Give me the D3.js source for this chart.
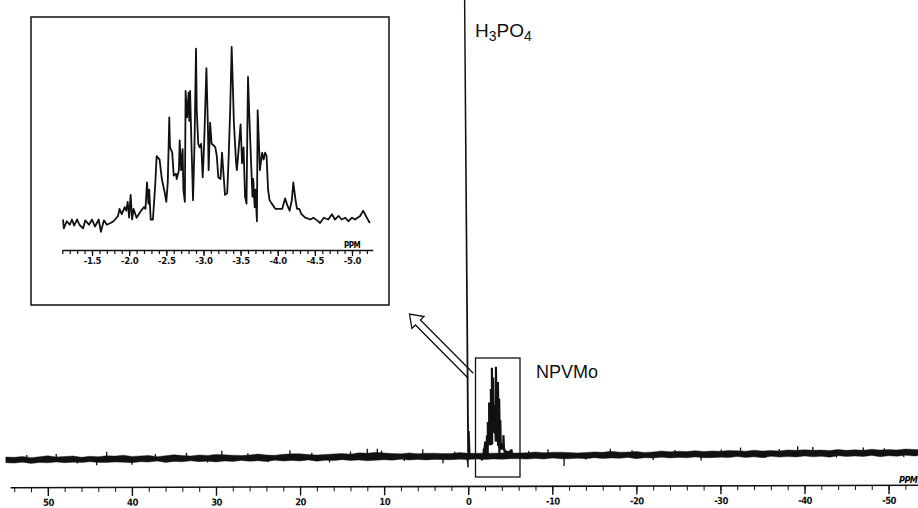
<!DOCTYPE html>
<html>
<head>
<meta charset="utf-8">
<script src="https://cdnjs.cloudflare.com/ajax/libs/d3/7.8.5/d3.min.js"></script>
<style>
body{margin:0;background:#fff;}
svg{display:block;}
.axis text{font-family:"DejaVu Sans Condensed","DejaVu Sans",sans-serif;font-weight:bold;fill:#111;}
.axis line,.axis path{stroke:#111;}
.label{font-family:"Liberation Sans",Arial,sans-serif;fill:#111;}
</style>
</head>
<body>
<div id="chart"></div>
<script>
// inset trace (ppm, relative intensity)
var insetPpm = [-1.11,-1.12,-1.16,-1.20,-1.23,-1.26,-1.30,-1.33,-1.38,-1.41,-1.46,-1.50,-1.54,-1.59,-1.62,-1.66,-1.70,-1.75,-1.79,-1.85,
	-1.87,-1.90,-1.94,-1.96,-1.98,-2.00,-2.02,-2.04,-2.06,-2.10,-2.13,-2.16,-2.20,-2.22,-2.24,-2.26,-2.27,-2.29,-2.32,-2.35,
	-2.37,-2.41,-2.44,-2.48,-2.50,-2.52,-2.54,-2.55,-2.58,-2.60,-2.63,-2.64,-2.67,-2.68,-2.70,-2.72,-2.73,-2.75,-2.76,-2.78,
	-2.80,-2.81,-2.82,-2.84,-2.86,-2.88,-2.90,-2.91,-2.93,-2.95,-2.97,-2.99,-3.01,-3.03,-3.04,-3.06,-3.07,-3.09,-3.11,-3.14,
	-3.16,-3.18,-3.20,-3.23,-3.25,-3.27,-3.29,-3.32,-3.34,-3.36,-3.38,-3.40,-3.41,-3.44,-3.45,-3.47,-3.50,-3.52,-3.54,-3.56,
	-3.58,-3.59,-3.60,-3.62,-3.64,-3.66,-3.67,-3.69,-3.70,-3.72,-3.73,-3.75,-3.76,-3.79,-3.81,-3.83,-3.85,-3.87,-3.89,-3.92,
	-3.97,-4.01,-4.06,-4.10,-4.13,-4.16,-4.19,-4.21,-4.24,-4.26,-4.29,-4.32,-4.37,-4.44,-4.48,-4.53,-4.57,-4.62,-4.68,-4.73,
	-4.77,-4.82,-4.86,-4.91,-4.95,-5.00,-5.04,-5.11,-5.15,-5.20,-5.24];
var insetInt = [2,-3,1,-1,2,-1.5,2,-1,-3,1.5,-1,2,-2,2,-5,1.5,-1,0,1,4,
	8,5,9,7,12,3,16,2,8,3,5,7,9,8,23,11,19,2,2,21,
	38,36,25,17,12,23,60,43,40,27,28,25,30,47,30,42,19,12,75,60,
	74,58,75,43,13,45,99,64,45,43,45,26,45,74,88,55,30,57,45,44,
	43,38,26,25,40,28,16,17,38,64,100,72,57,34,30,40,56,34,43,15,
	11,49,83,58,36,15,25,9,19,1,64,42,30,40,36,40,38,19,13,11,
	8,8,8,14,10,7,13,23,13,8,8,5,3,2,3,1.5,0,3,2,5,
	2,4,2,3,1,3,2,4,7,3,0];

// main baseline noise envelope, one value per ppm from 55 down to -54
var noiseHi = [3,2.5,3.5,2,3,4,2.5,3,3.5,2,
	3,2.5,3.5,3,4,2.5,3,3.5,2,3,
	4,3,2.5,3.5,3,4,3.5,3,2.5,3,
	4,3,2.5,3.5,4,4,3,2.5,3,3.5,
	4,3,4.5,4,5,4,3.5,3,4,3,
	3.5,3.5,3,3,4,3,3,3,3,3,
	3,3,3,4,3,3.5,3.5,3,2.5,3,
	3.5,3,4,3,3,3.5,2.5,3,4,3,
	3.5,3,4,3,3.5,3,4,3.5,3,4,
	3,3.5,3,4,3.5,4,3.5,3.5,3,4,
	3,3.5,3,4,3,3.5,3,4,3.5,3];
var noiseLo = [-3.5,-4,-3,-4.5,-3.5,-4,-3,-4,-3.5,-4,
	-3,-4,-4,-3.5,-4,-4.5,-3.5,-4,-3,-4.5,
	-3.5,-4,-3,-4,-3.5,-4.5,-3.5,-4,-3,-4,
	-3.5,-4.5,-3,-4,-3.5,-4,-3,-4.5,-3.5,-4,
	-3,-4,-3.5,-4.5,-4,-3.5,-4,-3,-4,-3.5,
	-4,-3.5,-4,-4,-3.5,-4,-3.5,-4,-3.5,-4,
	-3.5,-3.5,-4,-3.5,-4,-3,-4,-4,-3.5,-4,
	-3,-4,-3.5,-4,-3,-4.5,-3.5,-4,-3,-4,
	-3.5,-4,-3,-4,-4,-3.5,-4,-3,-4,-3.5,
	-4.5,-3,-4,-3.5,-4,-3,-4,-3.5,-4.5,-3,
	-4,-3.5,-4,-3,-4.5,-3.5,-4,-3,-4,-3.5];

// isolated noise spikes on the main trace
var spikePpm = [52.5,49.0,46.5,44.2,43.0,40.0,37.2,33.5,31.0,29.3,26.2,23.8,21.2,18.6,16.5,14.0,12.0,10.8,10.3,7.6,
	5.4,3.0,1.6,-7.2,-9.5,-11.4,-14.0,-16.9,-19.5,-22.0,-24.6,-27.7,-30.1,-32.4,-35.3,-37.0,-39.2,-41.0,-43.8,-47.0,
	-49.5,-51.8];
var spikeInt = [5,6,-5,-7,8,-7,5,6,-5,8,5,-5,8,5,-6,6,9,9,7,-5,
	8,-8,5,5,7,-12,-5,7,5,-6,5,-7,5,7,-5,5,8,7,-5,6,
	5,-5];

// H3PO4 reference line at 0 ppm (off scale)
var refPpm = [0.25,0.08,0.03,0.0,-0.03,-0.12,-0.2,-0.3];
var refInt = [0,-6,-13,540,-2,28,0,0];

var mainMajorTicks = [50,40,30,20,10,0,-10,-20,-30,-40,-50];
var insetMajorTicks = [-1.5,-2.0,-2.5,-3.0,-3.5,-4.0,-4.5,-5.0];

var width = 918, height = 508;
var svg = d3.select("#chart").append("svg")
	.attr("width", width)
	.attr("height", height);

// ---------- main spectrum ----------
var x = d3.scaleLinear().domain([54.5, -53.5]).range([10, 918]);
var y = d3.scaleLinear().domain([0, 100]).range([456, 367]);

var noiseData = noiseHi.map(function(v, i){ return {ppm: 55 - i, hi: v, lo: noiseLo[i]}; });
var insetData = insetPpm.map(function(p, i){ return [p, insetInt[i]]; });
var refData = refPpm.map(function(p, i){ return [p, refInt[i]]; });

var spec = svg.append("g")
	.attr("transform", "rotate(-0.45,468,456)");

var band = d3.area()
	.x(function(d){ return x(d.ppm); })
	.y0(function(d){ return y(d.lo); })
	.y1(function(d){ return y(d.hi); });

spec.append("path")
	.datum(noiseData)
	.attr("d", band)
	.attr("fill", "#111")
	.attr("stroke", "#111")
	.attr("stroke-width", 0.4);

spec.selectAll(".spike")
	.data(spikePpm)
  .enter().append("line")
	.attr("class", "spike")
	.attr("x1", function(d){ return x(d); })
	.attr("x2", function(d){ return x(d); })
	.attr("y1", y(0))
	.attr("y2", function(d, i){ return y(spikeInt[i]); })
	.attr("stroke", "#111")
	.attr("stroke-width", 1.3);

var mainLine = d3.line()
	.x(function(d){ return x(d[0]); })
	.y(function(d){ return y(d[1]); });

spec.append("path")
	.datum(insetData)
	.attr("d", mainLine)
	.attr("fill", "none")
	.attr("stroke", "#111")
	.attr("stroke-width", 2.2);

spec.append("path")
	.datum(refData)
	.attr("d", mainLine)
	.attr("fill", "none")
	.attr("stroke", "#111")
	.attr("stroke-width", 1.4);

// main axis
var axisG = svg.append("g")
	.attr("transform", "rotate(-0.15,468,486)");

axisG.append("g")
	.attr("class", "axis")
	.attr("transform", "translate(0,486)")
	.call(d3.axisBottom(x).tickValues(d3.range(54, -53, -2)).tickSize(5).tickSizeOuter(0).tickFormat(""))
	.call(function(g){ g.select(".domain").attr("stroke-width", 1.6); });

axisG.append("g")
	.attr("class", "axis")
	.attr("transform", "translate(0,486)")
	.call(d3.axisBottom(x).tickValues(mainMajorTicks).tickSize(9).tickPadding(3).tickFormat(function(d){ return String(d); }))
	.call(function(g){
		g.select(".domain").remove();
		g.selectAll("line").attr("stroke-width", 1.4);
		g.selectAll("text").style("font-size", "9.5px").attr("letter-spacing", "-0.6");
	});

svg.append("text")
	.attr("class", "axis")
	.attr("x", 899)
	.attr("y", 483)
	.style("font-family", "DejaVu Sans Condensed, DejaVu Sans, sans-serif")
	.style("font-weight", "bold")
	.style("font-style", "italic")
	.style("font-size", "9px")
	.attr("letter-spacing", "-0.5")
	.text("PPM");

// NPVMo box and label
svg.append("rect")
	.attr("x", 475.5).attr("y", 358)
	.attr("width", 44.5).attr("height", 119)
	.attr("fill", "none")
	.attr("stroke", "#111")
	.attr("stroke-width", 1.3);

svg.append("text")
	.attr("class", "label")
	.attr("x", 536)
	.attr("y", 378)
	.style("font-size", "18px")
	.text("NPVMo");

var h3 = svg.append("text")
	.attr("class", "label")
	.attr("x", 475)
	.attr("y", 37)
	.style("font-size", "19px");
h3.append("tspan").text("H");
h3.append("tspan").attr("dy", 4).style("font-size", "14px").text("3");
h3.append("tspan").attr("dy", -4).text("PO");
h3.append("tspan").attr("dy", 4).style("font-size", "14px").text("4");

// outline arrow pointing from the box to the inset
var tip = [409.5, 314], dir = [0.704, 0.710], nrm = [0.710, -0.704];
function pt(along, across){
	return [tip[0] + dir[0]*along + nrm[0]*across, tip[1] + dir[1]*along + nrm[1]*across];
}
var arrowPts = [pt(87, 3.5), pt(12, 3.5), pt(12, 8.5), pt(0, 0), pt(12, -8.5), pt(12, -3.5), pt(87, -3.5)];
svg.append("path")
	.attr("d", d3.line()(arrowPts))
	.attr("fill", "none")
	.attr("stroke", "#111")
	.attr("stroke-width", 1.3)
	.attr("stroke-linejoin", "miter");

// ---------- inset ----------
svg.append("rect")
	.attr("x", 31).attr("y", 17)
	.attr("width", 358).attr("height", 288)
	.attr("fill", "#fff")
	.attr("stroke", "#111")
	.attr("stroke-width", 1.5);

var xi = d3.scaleLinear().domain([-1.1, -5.28]).range([62.3, 372.8]);
var yi = d3.scaleLinear().domain([0, 100]).range([223, 47]);

svg.append("path")
	.datum(insetData)
	.attr("d", d3.line()
		.x(function(d){ return xi(d[0]); })
		.y(function(d){ return yi(d[1]); }))
	.attr("fill", "none")
	.attr("stroke", "#111")
	.attr("stroke-width", 1.8)
	.attr("stroke-linejoin", "round");

svg.append("g")
	.attr("class", "axis")
	.attr("transform", "translate(0,250)")
	.call(d3.axisBottom(xi).tickValues(d3.range(11, 53).map(function(d){ return -d/10; })).tickSize(4).tickSizeOuter(0).tickFormat(""))
	.call(function(g){
		g.select(".domain").attr("stroke-width", 1.5);
		g.selectAll("line").attr("stroke-width", 1.2);
	});

svg.append("g")
	.attr("class", "axis")
	.attr("transform", "translate(0,250)")
	.call(d3.axisBottom(xi).tickValues(insetMajorTicks).tickSize(6).tickPadding(1).tickFormat(function(d){ return d.toFixed(1); }))
	.call(function(g){
		g.select(".domain").remove();
		g.selectAll("line").attr("stroke-width", 1.3);
		g.selectAll("text").style("font-size", "9.5px").attr("letter-spacing", "-0.3");
	});

svg.append("text")
	.attr("x", 352)
	.attr("y", 248)
	.attr("text-anchor", "middle")
	.style("font-family", "DejaVu Sans Condensed, DejaVu Sans, sans-serif")
	.style("font-weight", "bold")
	.style("font-size", "8px")
	.attr("letter-spacing", "-0.5")
	.text("PPM");
</script>
</body>
</html>
